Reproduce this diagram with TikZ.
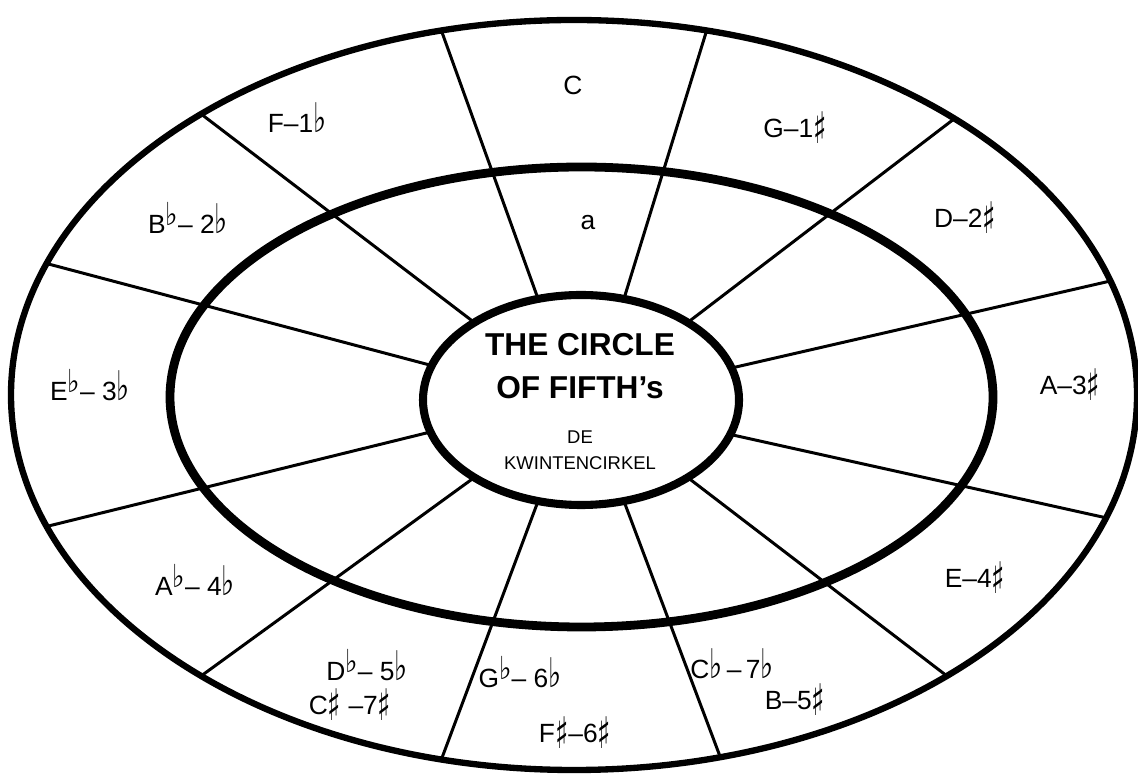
\documentclass[tikz,border=0pt]{standalone}
\usepackage{fontspec}
\setmainfont{Liberation Sans}
\newfontfamily\symfont{DejaVu Sans}
\usepackage{tikz}
\usetikzlibrary{shapes.geometric}

\newcommand{\flt}{\scalebox{1.05}[1.55]{\symfont ♭}}
\newcommand{\shp}{\raisebox{-0.45ex}{\scalebox{1.05}[1.65]{\symfont ♯}}}
\newcommand{\upflt}{\raisebox{0.55ex}{\scalebox{1}[1.2]{\symfont ♭}}}

\begin{document}
\begin{tikzpicture}
    % Define styles
    \tikzstyle{ring} = [ellipse, draw, inner sep=0pt, outer sep=0pt]
    \tikzstyle{spoke} = [line width=1.7pt]
    \tikzstyle{keyname} = [font=\fontsize{15}{17}\selectfont]
    \tikzstyle{title} = [font=\bfseries\fontsize{18}{20}\selectfont]
    \tikzstyle{subtitle} = [font=\fontsize{10.5}{12}\selectfont]

    \useasboundingbox (0,0) rectangle (22.76,15.48);

    % Rings
    \node[ring, line width=3.6pt, minimum width=22.52cm, minimum height=15cm] (outer) at (11.48,7.58) {};
    \node[ring, line width=5pt, minimum width=16.46cm, minimum height=9.2cm] (middle) at (11.63,7.54) {};
    \node[ring, line width=4.6pt, minimum width=6.32cm, minimum height=4.2cm] (inner) at (11.62,7.48) {};

    % Spokes (inner angle / outer angle)
    \foreach \i/\o in {67/70, 113/110, 36/36, 144/143.5, 12.5/12.5, 167.5/166.5,
                       347.5/347.5, 192.5/194, 324/323.5, 216/217.5, 293/292.5, 247/250}
        \draw[spoke] (inner.\i) -- (outer.\o);

    % Center text
    \node[title] (title1) at (11.6, 8.58) {THE CIRCLE};
    \node[title] (title2) at (11.6, 7.72) {OF FIFTH's};
    \node[subtitle] (sub1) at (11.6, 6.74) {DE};
    \node[subtitle] (sub2) at (11.6, 6.22) {KWINTENCIRKEL};

    % Keys - top half
    \node[keyname] (keyC) at (11.46, 13.78) {C};
    \node[keyname] (keyAm) at (11.76, 11.02) {a};
    \node[keyname] (keyF) at (5.94, 13.12) {F–1\flt};
    \node[keyname] (keyG) at (15.9, 12.92) {G–1\shp};
    \node[keyname] (keyBb) at (3.76, 11.12) {B\upflt– 2\flt};
    \node[keyname] (keyD) at (19.3, 11.12) {D–2\shp};
    \node[keyname] (keyEb) at (1.8, 7.78) {E\upflt– 3\flt};
    \node[keyname] (keyA) at (21.4, 7.78) {A–3\shp};

    % Keys - bottom half
    \node[keyname] (keyAb) at (3.9, 3.88) {A\upflt– 4\flt};
    \node[keyname] (keyE) at (19.5, 3.92) {E–4\shp};
    \node[keyname] (keyDb) at (7.34, 2.18) {D\upflt– 5\flt};
    \node[keyname] (keyCs) at (7.0, 1.38) {C\shp\ –7\shp};
    \node[keyname] (keyGb) at (10.4, 2.04) {G\upflt– 6\flt};
    \node[keyname] (keyFs) at (11.5, 0.82) {F\shp–6\shp};
    \node[keyname] (keyCb) at (14.64, 2.2) {C\flt\,–\,7\flt};
    \node[keyname] (keyB) at (15.9, 1.48) {B–5\shp};

\end{tikzpicture}
\end{document}
